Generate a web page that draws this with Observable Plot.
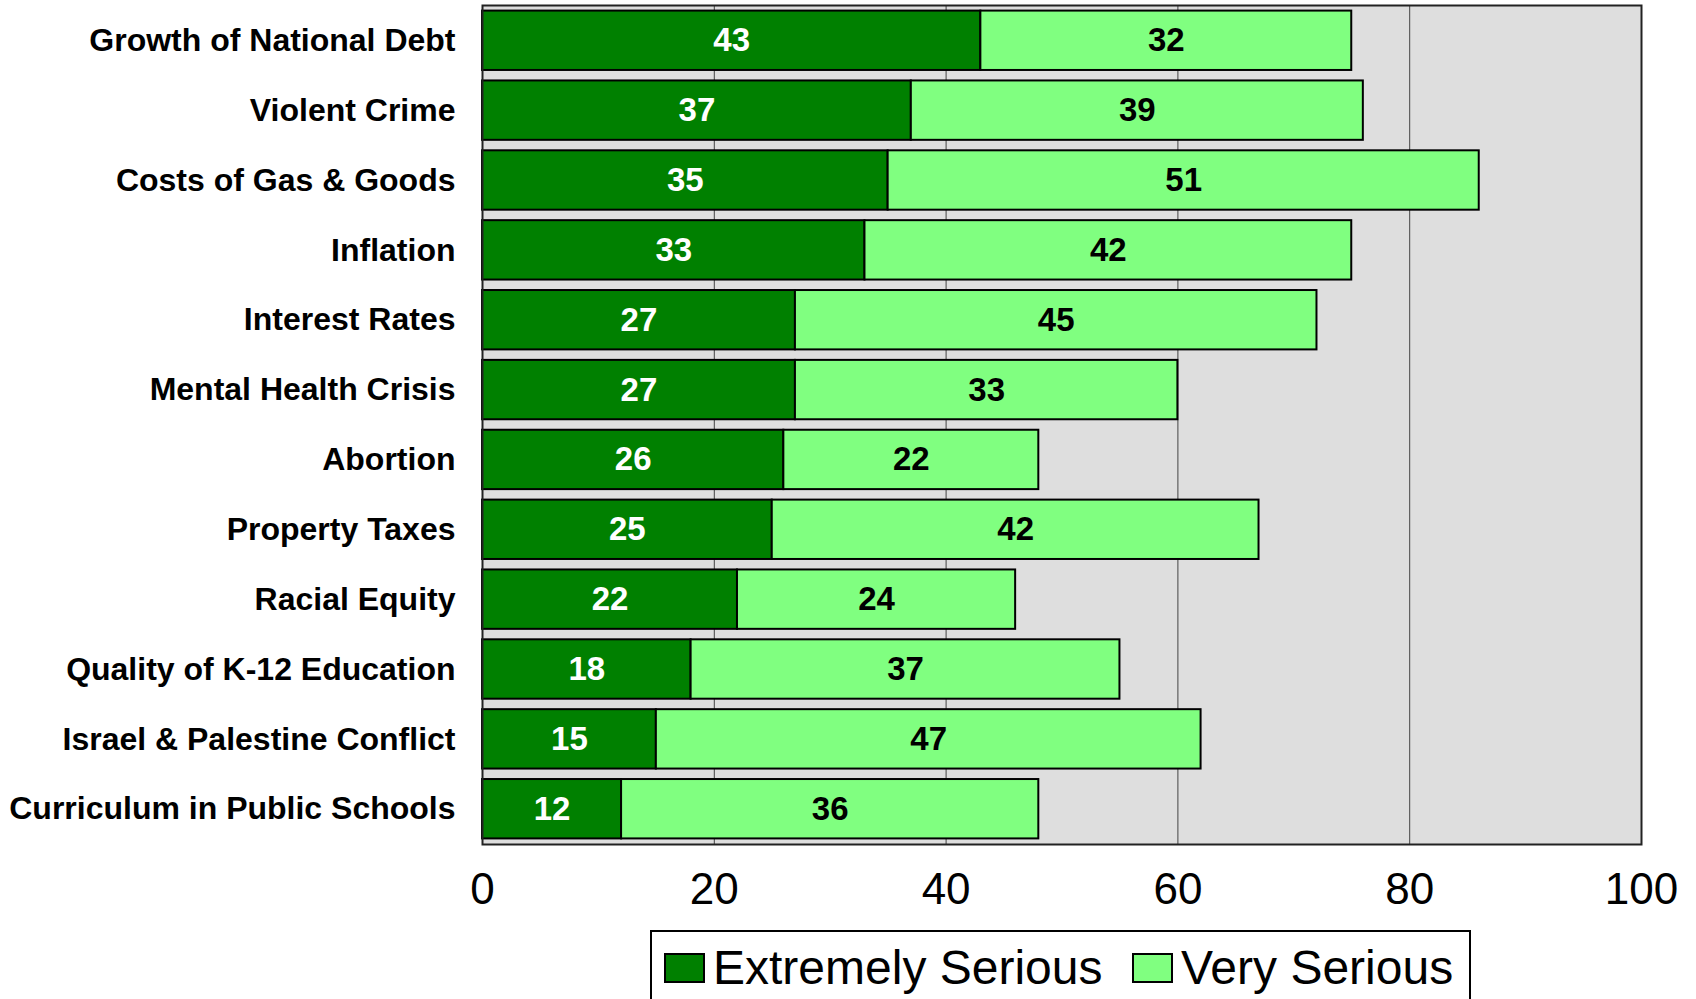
<!DOCTYPE html>
<html>
<head>
<meta charset="utf-8">
<script src="https://cdn.jsdelivr.net/npm/d3@7"></script>
<script src="https://cdn.jsdelivr.net/npm/@observablehq/plot@0.6"></script>
<style>
  html, body { margin: 0; padding: 0; background: #fff; overflow: hidden; }
  body { width: 1696px; height: 999px; position: relative; font-family: "Liberation Sans", Arial, sans-serif; }
  #chart { position: absolute; left: 0; top: 0; }
  #legend { position: absolute; left: 650px; top: 930px; width: 821px; height: 120px; box-sizing: border-box;
            border: 2px solid #000; background: #fff; }
  .item { position: absolute; top: 12px; display: flex; align-items: center; font-size: 48px; line-height: 1; color: #000; white-space: nowrap; }
  .sw { width: 41px; height: 30px; box-sizing: border-box; border: 2px solid #000; margin-right: 8px; }
</style>
</head>
<body>
<div id="chart"></div>
<div id="legend">
  <div class="item" style="left:12px"><div class="sw" style="background:#008000"></div>Extremely Serious</div>
  <div class="item" style="left:480px"><div class="sw" style="background:#80FF80"></div>Very Serious</div>
</div>
<script>
const categories = [
  "Growth of National Debt", "Violent Crime", "Costs of Gas & Goods", "Inflation",
  "Interest Rates", "Mental Health Crisis", "Abortion", "Property Taxes",
  "Racial Equity", "Quality of K-12 Education", "Israel & Palestine Conflict",
  "Curriculum in Public Schools"
];
const series = ["Extremely Serious", "Very Serious"];
const extremelySerious = [43, 37, 35, 33, 27, 27, 26, 25, 22, 18, 15, 12];
const verySerious = [32, 39, 51, 42, 45, 33, 22, 42, 24, 37, 47, 36];
const xTicks = [0, 20, 40, 60, 80, 100];
const colors = ["#008000", "#80FF80"];
const textColors = ["#fff", "#000"];

const data = [];
categories.forEach((c, i) => {
  data.push({cat: c, series: series[0], value: extremelySerious[i]});
  data.push({cat: c, series: series[1], value: verySerious[i]});
});

const chart = Plot.plot({
  width: 1696,
  height: 925,
  marginLeft: 482,
  marginRight: 55,
  marginTop: 5,
  marginBottom: 81,
  style: {fontFamily: "'Liberation Sans', Arial, sans-serif", background: "transparent", overflow: "visible"},
  x: {domain: [0, 100], ticks: xTicks},
  y: {domain: categories, paddingInner: 0.15, paddingOuter: 0.08, round: false},
  color: {domain: series, range: colors},
  marks: [
    Plot.frame({fill: "#dedede", stroke: null}),
    Plot.gridX(xTicks.filter(d => d > 0 && d < 100), {stroke: "#444", strokeOpacity: 1, strokeWidth: 1}),
    Plot.barX(data, Plot.stackX({x: "value", y: "cat", z: "series", fill: "series", stroke: "#000", strokeWidth: 2, order: series})),
    Plot.text(data, Plot.stackX({x: "value", y: "cat", z: "series", order: series, text: d => String(d.value),
      fill: d => textColors[series.indexOf(d.series)], fontSize: 33, fontWeight: "bold"})),
    Plot.frame({stroke: "#222", strokeWidth: 2}),
    Plot.axisX({ticks: xTicks, tickSize: 0, tickPadding: 28, fontSize: 44, label: null, tickFormat: d => String(d), color: "#000"}),
    Plot.axisY({tickSize: 0, tickPadding: 27, fontSize: 32, fontWeight: "bold", label: null, color: "#000"})
  ]
});
document.getElementById("chart").appendChild(chart);
</script>
</body>
</html>
